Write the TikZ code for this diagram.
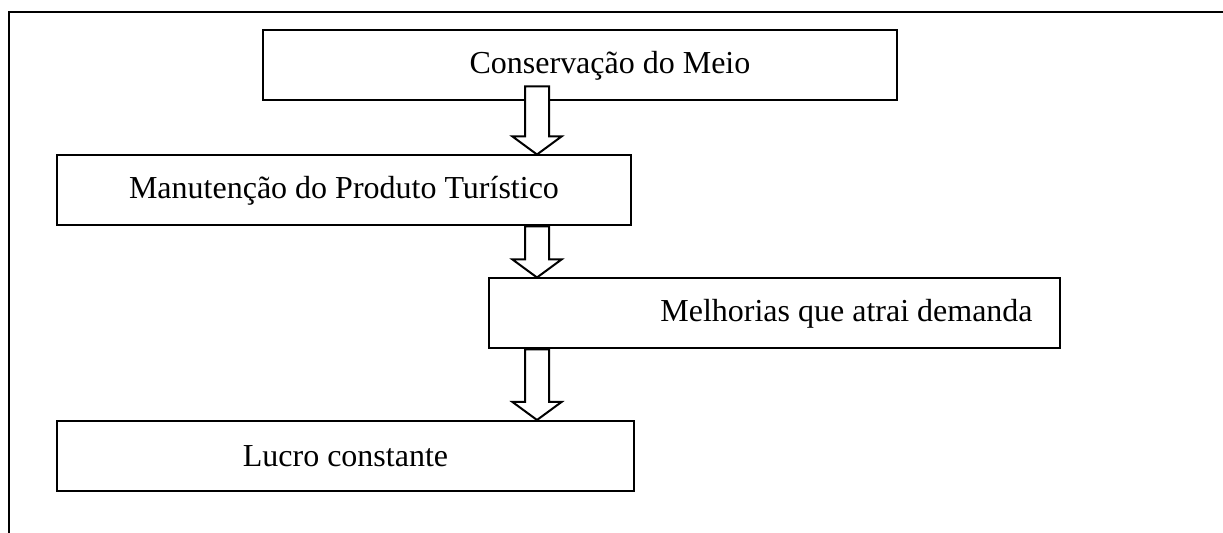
\documentclass[tikz,border=0pt]{standalone}
\usepackage{fontspec}
\setmainfont{Liberation Serif}
\usepackage{tikz}
\usetikzlibrary{calc, positioning}

\tikzset{
  caixa/.style={draw, line width=1pt, inner sep=0pt, minimum height=35pt, font=\fontsize{16}{19}\selectfont},
  seta/.style={draw, line width=1pt, fill=white, line join=miter},
}

% block arrow: from node, to node, column, start above the bottom of the from node
\newcommand{\setabloco}[4]{
  \draw[seta] ($(#3 |- #1.south)+(-12,-#4)$) -- ($(#3 |- #2.north)+(-12,-18)$)
    -- ($(#3 |- #2.north)+(-24.5,-18)$) -- (#3 |- #2.north)
    -- ($(#3 |- #2.north)+(24.5,-18)$) -- ($(#3 |- #2.north)+(12,-18)$)
    -- ($(#3 |- #1.south)+(12,-#4)$) -- cycle;
}

\begin{document}
\begin{tikzpicture}[x=0.5pt, y=-0.5pt]
        \useasboundingbox (0,0) rectangle (1223,533);
        \coordinate (canto) at (9,12);
        \coordinate (fimx) at (1223,12);
        \coordinate (fimy) at (9,533);
        \draw[line width=1pt] (fimx) -- (canto) -- (fimy);

        \node[caixa, minimum width=317pt] (Conservacao) at (580,65.5) {\hspace*{30pt}Conservação do Meio};
        \node[caixa, minimum width=287pt] (Manutencao) at (344,190.5) {Manutenção do Produto Turístico};
        \node[caixa, minimum width=285.5pt] (Melhorias) at (774.5,313.5) {\hspace*{72pt}Melhorias que atrai demanda};
        \node[caixa, minimum width=288.5pt] (Lucro) at (345.5,456) {Lucro constante};

        \coordinate (coluna) at (537,0);
        \setabloco{Conservacao}{Manutencao}{coluna}{15}
        \setabloco{Manutencao}{Melhorias}{coluna}{0}
        \setabloco{Melhorias}{Lucro}{coluna}{0}
    \end{tikzpicture}
\end{document}
